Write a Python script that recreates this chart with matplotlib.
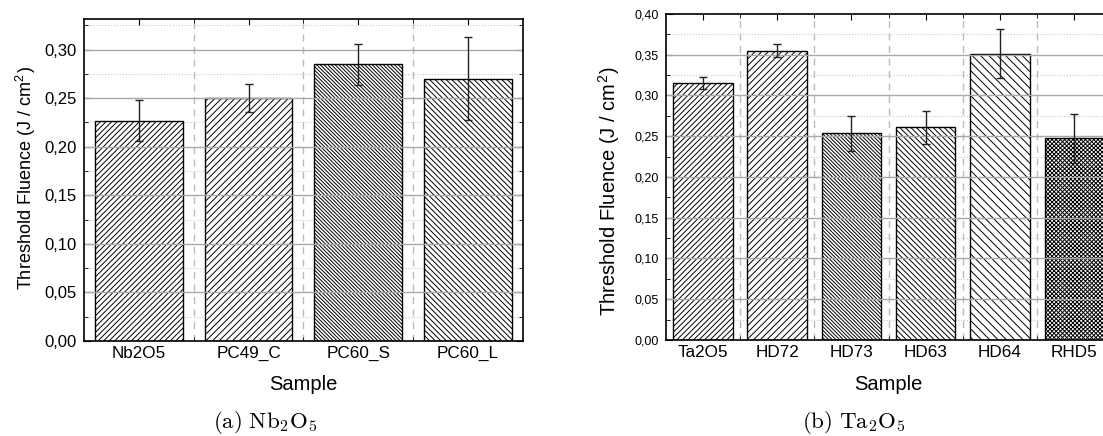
import matplotlib.pyplot as plt
import matplotlib.ticker as mticker
import numpy as np

plt.rcParams['font.family'] = ['Liberation Sans', 'DejaVu Sans']
plt.rcParams['mathtext.fontset'] = 'cm'
plt.rcParams['hatch.linewidth'] = 0.7
plt.rcParams['hatch.color'] = 'black'

# data
nb_samples = ['Nb2O5', 'PC49_C', 'PC60_S', 'PC60_L']
nb_fluence = [0.227, 0.250, 0.285, 0.270]
nb_error = [0.021, 0.0145, 0.021, 0.0425]
nb_hatches = ['/' * 6, '/' * 5, '\\' * 9, '\\' * 6]

ta_samples = ['Ta2O5', 'HD72', 'HD73', 'HD63', 'HD64', 'RHD5']
ta_fluence = [0.315, 0.355, 0.2535, 0.261, 0.351, 0.2475]
ta_error = [0.0075, 0.0078, 0.021, 0.020, 0.030, 0.030]
ta_hatches = ['/' * 6, '/' * 5, '\\' * 9, '\\' * 6, '\\' * 4, 'x' * 8]


def comma_fmt(v, pos):
    return f'{v:.2f}'.replace('.', ',')


def draw_panel(ax, samples, values, errors, hatches, ymax, ytick_size):
    x = np.arange(len(samples))
    ax.bar(x, values, width=0.8, color='white', edgecolor='black',
           linewidth=1.0, hatch=hatches, zorder=2)
    ax.errorbar(x, values, yerr=errors, fmt='none', ecolor='#222222',
                elinewidth=1.0, capsize=3, capthick=1.0, zorder=4)
    ax.set_xlim(-0.5, len(samples) - 0.5)
    ax.set_ylim(0, ymax)
    ax.set_xticks(x)
    ax.set_xticklabels(samples)
    ax.xaxis.set_minor_locator(mticker.FixedLocator(x[:-1] + 0.5))
    ax.yaxis.set_major_locator(mticker.MultipleLocator(0.05))
    ax.yaxis.set_minor_locator(mticker.MultipleLocator(0.025))
    ax.yaxis.set_major_formatter(mticker.FuncFormatter(comma_fmt))
    ax.set_axisbelow(True)
    ax.grid(axis='y', which='minor', color='#c8c8c8', linestyle=':', linewidth=0.8)
    ax.grid(axis='x', which='minor', color='#bbbbbb', linestyle=(0, (5, 4)), linewidth=1.0)
    # major horizontal lines sit over the bars
    for y in ax.get_yticks():
        if 0 < y < ymax:
            ax.axhline(y, color='#a8a8a8', linewidth=1.0, zorder=3)
    ax.tick_params(which='both', direction='in', top=True, right=True, color='black')
    ax.tick_params(axis='y', which='major', length=5, labelsize=ytick_size, pad=5)
    ax.tick_params(axis='y', which='minor', length=3)
    ax.tick_params(axis='x', which='major', length=4, labelsize=12.3, pad=3.5)
    ax.tick_params(axis='x', which='minor', length=3)
    for s in ax.spines.values():
        s.set_linewidth(1.2)
        s.set_zorder(5)
    ax.set_xlabel('Sample', fontsize=14.5)
    ax.set_ylabel('Threshold Fluence (J / cm$^\\mathregular{2}$)', fontsize=13)


fig = plt.figure(figsize=(11.03, 4.36), dpi=100)

ax1 = fig.add_axes([0.0762, 0.2179, 0.3977, 0.7374])
draw_panel(ax1, nb_samples, nb_fluence, nb_error, nb_hatches, 0.331, 12)
ax1.yaxis.set_label_coords(-0.105, 0.507)
ax1.yaxis.label.set_fontsize(13)
ax1.xaxis.set_label_coords(0.5, -0.106)

ax2 = fig.add_axes([0.6035, 0.2202, 0.4042, 0.7477])
draw_panel(ax2, ta_samples, ta_fluence, ta_error, ta_hatches, 0.40, 9)
ax2.yaxis.set_label_coords(-0.099, 0.457)
ax2.yaxis.label.set_fontsize(14.5)
ax2.xaxis.set_label_coords(0.5, -0.107)

fig.text(265 / 1103, 0.030, r'$\mathrm{(a)\ Nb_2O_5}$', ha='center', va='center',
         fontsize=16.5)
fig.text(854 / 1103, 0.030, r'$\mathrm{(b)\ Ta_2O_5}$', ha='center', va='center',
         fontsize=16.5)

fig.savefig('out.png', dpi=100)
